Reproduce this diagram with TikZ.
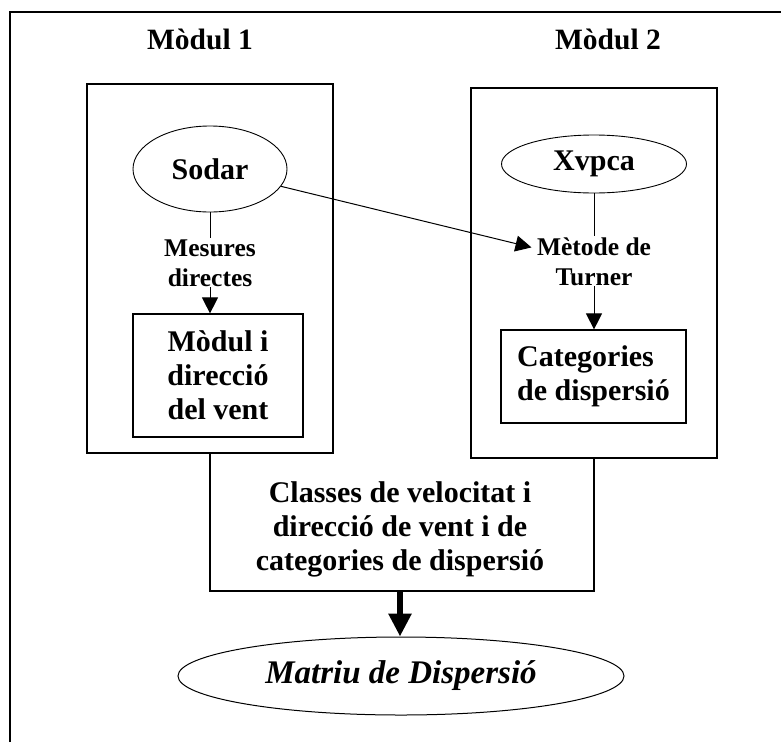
\documentclass[tikz,border=0pt]{standalone}
\usepackage{fontspec}
\setmainfont{Liberation Serif}
\usetikzlibrary{shapes.geometric, arrows.meta, positioning, calc}
\tikzset{
    modulebox/.style={draw, line width=1.3pt, minimum width=246pt, minimum height=369pt, inner sep=0pt},
    sourcenode/.style={draw, ellipse, line width=0.9pt, inner sep=0pt, font=\fontsize{30}{34}\selectfont\bfseries},
    resultbox/.style={draw, line width=1.2pt, inner sep=0pt, align=center, font=\fontsize{30}{34}\selectfont\bfseries},
    steplabel/.style={fill=white, inner sep=1pt, align=center, font=\fontsize{25.5}{30}\selectfont\bfseries},
    flow/.style={-{Triangle[length=16pt, width=16pt]}, line width=1pt},
}

\begin{document}
\begin{tikzpicture}[x=1pt, y=-1pt]
    \useasboundingbox (0,0) rectangle (781,742);
    % frame
    \draw[line width=1.5pt] (10,742) |- (781,12);

    % module titles and boxes
    \node[font=\fontsize{29.5}{34}\selectfont\bfseries] (title1) at (200,39) {Mòdul 1};
    \node[font=\fontsize{29.5}{34}\selectfont\bfseries] (title2) at (608,39) {Mòdul 2};
    \node[modulebox] (mod1) at (210,268.5) {};
    \node[modulebox, minimum height=370pt] (mod2) at (594,273) {};

    % module 1
    \node[sourcenode, minimum width=154pt, minimum height=86pt] (sodar) at (210,169) {Sodar};
    \node[resultbox, minimum width=170pt, minimum height=123pt] (vent) at (218,375.5) {Mòdul i\\direcció\\del vent};
    \draw[flow] (sodar) -- node[steplabel] (mesures) {Mesures\\directes} (sodar |- vent.north);

    % module 2
    \node[sourcenode, minimum width=185pt, minimum height=58pt] (xvpca) at (594,164) {Xvpca};
    \node[resultbox, align=left, minimum width=185pt, minimum height=93pt] (categ) at (593.5,376.5) {Categories\\de dispersió};
    \draw[flow] (xvpca) -- node[steplabel] (turner) {Mètode de\\Turner} (xvpca |- categ.north);
    \draw[flow] (sodar) -- ($(turner.west)+(-4,-14)$);

    % combined classes and result
    \node[font=\fontsize{30}{34}\selectfont\bfseries, align=center] (classes) at (400,529) {Classes de velocitat i\\direcció de vent i de\\categories de dispersió};
    \coordinate (cbase) at (400,591);
    \draw[line width=1.2pt] (mod1.south) |- (cbase) -| (mod2.south);
    \node[draw, ellipse, line width=1pt, minimum width=446pt, minimum height=78pt, inner sep=0pt,
          font=\fontsize{33}{36}\selectfont\bfseries\itshape] (matriu) at (401,676) {Matriu de Dispersió};
    \draw[-{Triangle[length=23pt, width=22pt]}, line width=6pt] (cbase) -- (cbase |- matriu.north);
\end{tikzpicture}
\end{document}
